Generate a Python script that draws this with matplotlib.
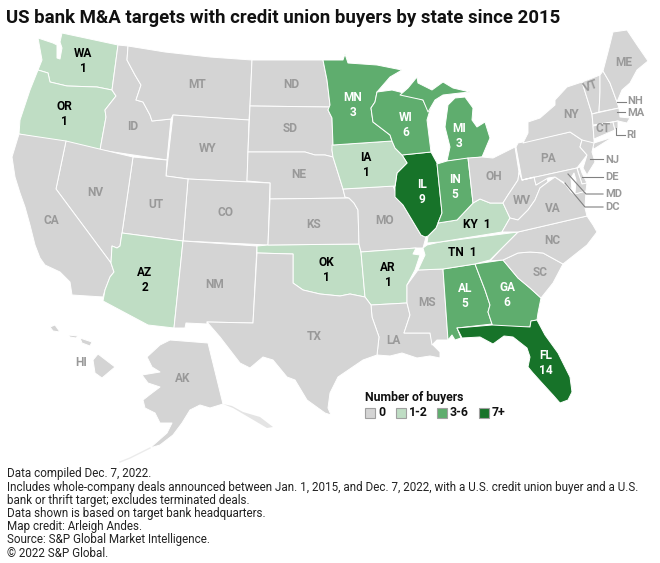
import matplotlib
matplotlib.use("Agg")
import matplotlib.pyplot as plt
from matplotlib.patches import Polygon, Rectangle

plt.rcParams['font.family'] = ['Roboto', 'DejaVu Sans']

TITLE = "US bank M&A targets with credit union buyers by state since 2015"
NOTES = [
    "Data compiled Dec. 7, 2022.",
    "Includes whole-company deals announced between Jan. 1, 2015, and Dec. 7, 2022, with a U.S. credit union buyer and a U.S.",
    "bank or thrift target; excludes terminated deals.",
    "Data shown is based on target bank headquarters.",
    "Map credit: Arleigh Andes.",
    "Source: S&P Global Market Intelligence.",
    "\u00a9 2022 S&P Global.",
]

# buyers per state, anything not listed is 0
buyers = {"WA": 1, "OR": 1, "AZ": 2, "OK": 1, "AR": 1, "IA": 1, "MN": 3, "WI": 6, "MI": 3,
          "IL": 9, "IN": 5, "KY": 1, "TN": 1, "AL": 5, "GA": 6, "FL": 14}

legend_labels = ["0", "1-2", "3-6", "7+"]
legend_colors = ["#d4d4d4", "#bfddc4", "#5fad6e", "#177329"]

# state outlines, traced in map units
outlines = {
    "WA": [[(62,33),(118,45),(112,90),(97,87),(67,86),(50,82),(48,73),(38,70),(42,60),(38,38),(53,43),(57,45),(57,58),(60,59),(62,48),(60,42)]],
    "OR": [[(38,70),(48,73),(50,82),(67,86),(97,87),(112,90),(116,96),(105,110),(106,117),(100,150),(19,134),(20,120),(30,90)]],
    "ID": [[(118,45),(128,46),(127,60),(135,75),(141,85),(136,100),(143,102),(150,115),(152,121),(171,119),(167,160),(100,150),(106,117),(105,110),(116,96),(112,90)]],
    "MT": [[(128,46),(165,52),(210,57),(252,60),(250,106),(249,120),(200,117),(173,115),(171,119),(152,121),(150,115),(143,102),(136,100),(141,85),(135,75),(127,60)]],
    "WY": [[(173,115),(249,120),(247,182),(188,179),(166,176)]],
    "ND": [[(252,60),(323,60),(327,80),(330,105),(330,107),(250,106)]],
    "SD": [[(250,106),(330,107),(328,110),(332,118),(333,145),(332,150),(333,157),(325,155),(315,155),(305,152),(248,152)]],
    "NE": [[(248,152),(305,152),(315,155),(325,155),(333,157),(338,173),(343,189),(345,197),(349,198),(270,199),(270,183),(247,181)]],
    "CO": [[(188,179),(270,183),(268,245),(183,241)]],
    "UT": [[(133,157),(167,160),(166,176),(188,179),(183,241),(122,233)]],
    "NV": [[(66,141),(133,157),(122,233),(120,246),(117,248),(112,246),(111,263),(56,189)]],
    "CA": [[(19,134),(66,141),(56,189),(111,263),(114,272),(110,277),(105,290),(103,297),(72,295),(70,282),(60,272),(45,265),(40,258),(35,245),(30,225),(25,207),(20,193),(15,177),(12,157)]],
    "AZ": [[(122,233),(183,241),(174,328),(148,325),(103,301),(105,290),(110,277),(114,272),(111,263),(112,246),(117,248),(120,246)]],
    "NM": [[(183,241),(257,246),(253,323),(207,322),(207,324),(186,323),(185,328),(174,328)]],
    "OK": [[(257,246),(268,245),(359,244),(361,252),(365,297),(350,294),(340,296),(320,294),(303,290),(293,283),(293,254),(257,253)]],
    "KS": [[(270,199),(349,198),(354,203),(358,210),(359,244),(268,245)]],
    "MO": [[(343,189),(393,186),(397,195),(403,205),(412,220),(421,235),(426,237),(423,248),(416,248),(361,252),(359,244),(358,210),(354,203),(349,198),(345,197)]],
    "AR": [[(361,252),(416,248),(413,254),(420,255),(415,270),(407,285),(407,303),(371,305),(365,297)]],
    "LA": [[(371,305),(407,303),(410,315),(404,333),(430,333),(433,345),(440,352),(440,358),(430,356),(417,358),(402,353),(390,356),(377,355),(379,337),(372,317)]],
    "TX": [[(257,253),(293,254),(293,283),(303,290),(320,294),(340,296),(350,294),(365,297),(371,305),(372,317),(379,337),(377,355),(363,360),(338,377),(330,393),(328,408),(331,415),(325,413),(307,400),(295,380),(287,377),(273,360),(263,357),(250,368),(240,363),(220,337),(207,322),(253,323)]],
    "MS": [[(418,270),(443,269),(448,340),(437,340),(432,345),(430,333),(404,333),(410,315),(407,303),(407,285)]],
    "AL": [[(443,269),(475,264),(485,290),(490,305),(488,312),(492,324),(457,328),(461,338),(455,340),(452,335),(448,340)]],
    "GA": [[(475,264),(503,260),(518,278),(530,288),(541,298),(538,313),(537,320),(531,321),(530,327),(493,327),(488,312),(490,305),(485,290)]],
    "FL": [[(457,328),(492,325),(530,327),(531,321),(537,320),(545,335),(558,353),(570,377),(572,392),(568,400),(560,403),(553,395),(542,383),(533,373),(528,367),(530,357),(527,348),(513,337),(504,336),(493,344),(480,337),(462,338)]],
    "SC": [[(503,260),(518,253),(530,252),(543,253),(563,264),(553,283),(541,298),(530,288),(518,278)]],
    "NC": [[(490,261),(502,248),(518,232),(587,216),(593,225),(597,232),(587,245),(563,264),(543,253),(530,252),(518,253),(503,260)]],
    "TN": [[(427,245),(440,242),(518,232),(510,240),(490,260),(475,264),(443,269),(418,270),(425,255),(423,248)]],
    "KY": [[(427,243),(428,236),(436,228),(438,223),(457,220),(473,203),(480,199),(490,203),(503,203),(510,218),(502,232),(440,242)]],
    "IL": [[(402,155),(431,152),(437,163),(442,213),(436,228),(428,236),(425,237),(421,235),(412,220),(403,205),(395,197),(395,187),(397,173),(407,163)]],
    "IA": [[(332,145),(392,141),(395,148),(402,155),(407,163),(397,173),(395,186),(343,189),(338,173),(333,157),(332,150)]],
    "MN": [[(323,60),(343,60),(345,54),(348,63),(377,65),(402,70),(390,77),(377,92),(375,102),(371,108),(373,122),(390,135),(392,141),(333,145),(332,118),(328,110),(330,105),(327,80)]],
    "WI": [[(377,92),(392,90),(400,92),(423,100),(428,110),(433,100),(427,120),(431,152),(402,155),(395,148),(392,141),(390,135),(373,122),(371,108),(375,102)]],
    "MI": [[(447,161),(482,157),(490,138),(485,122),(477,127),(472,120),(473,108),(465,97),(455,98),(448,105),(445,127),(450,147)],
           [(400,95),(408,88),(417,77),(418,83),(432,90),(443,82),(453,88),(470,92),(460,93),(443,95),(435,100),(428,112),(423,100)]],
    "IN": [[(437,164),(447,161),(468,158),(473,203),(457,220),(438,223),(442,213)]],
    "OH": [[(468,158),(482,157),(493,158),(515,147),(519,172),(518,180),(508,195),(503,203),(490,203),(480,199),(473,203)]],
    "WV": [[(519,172),(522,180),(534,177),(536,185),(547,178),(548,182),(540,188),(535,200),(528,210),(518,220),(510,218),(503,203),(508,195),(518,180)]],
    "VA": [[(510,218),(518,220),(528,210),(535,200),(540,188),(548,182),(555,177),(566,185),(571,192),(574,194),(586,191),(585,208),(587,216),(518,232),(502,232)]],
    "PA": [[(516,147),(518,143),(570,132),(582,140),(580,147),(587,155),(577,168),(522,180)]],
    "NY": [[(523,143),(528,133),(528,122),(540,118),(555,105),(555,100),(567,87),(582,82),(592,114),(593,125),(594,139),(594,143),(613,137),(594,149),(592,146),(582,140),(570,132)]],
    "NJ": [[(580,147),(582,140),(594,143),(592,152),(595,162),(587,175),(583,168),(587,155)]],
    "DE": [[(577,168),(580,167),(582,173),(587,183),(582,184)]],
    "MD": [[(522,180),(577,168),(578,172),(582,184),(587,183),(586,191),(575,194),(576,180),(574,173),(571,178),(572,190),(566,184),(555,177),(548,178),(536,185),(534,177)]],
    "VT": [[(582,82),(600,75),(600,92),(599,112),(592,114)]],
    "NH": [[(600,75),(603,71),(610,83),(617,102),(619,108),(599,112),(600,92)]],
    "ME": [[(603,71),(608,52),(613,32),(627,30),(637,45),(648,61),(637,70),(630,83),(622,90),(617,102),(610,83)]],
    "MA": [[(592,114),(619,108),(620,117),(630,118),(627,123),(618,121),(593,125)]],
    "CT": [[(593,126),(613,122),(615,130),(594,139)]],
    "RI": [[(613,122),(618,121),(618,128),(615,130)]],
    "AK": [[(147,357),(160,345),(170,340),(208,343),(223,404),(210,408),(200,405),(190,410),(182,423),(173,435),(160,445),(150,448),(167,433),(172,423),(160,423),(155,413),(145,408),(143,400),(152,393),(160,387),(148,383),(142,375),(160,372),(152,367)]],
    "HI": [[(93,360),(98,354),(115,367),(102,378),(95,373)],
           [(80,338),(92,342),(90,346),(82,343)],
           [(68,335),(78,336),(76,338),(70,337)],
           [(50,327),(55,325),(60,332),(53,331)]],
}

# the Alaska panhandle and island chain are washed out in the picture
ak_panhandle = [(223,404),(232,406),(243,412),(260,417),(273,427),(267,428),(250,418),(233,408)]
ak_chain = [(150,448),(140,453),(130,458),(120,462)]

# where each state's name goes
label_pos = {
    "WA": (83,61), "OR": (64,114), "MT": (197,85), "ID": (133,127), "WY": (208,149), "NV": (95,192),
    "UT": (156,205), "CA": (51,220), "CO": (226,212), "KS": (314,224), "ND": (291,84), "SD": (290,129),
    "NE": (299,174), "MN": (353,105), "WI": (406,125), "IA": (366,165), "MO": (385,220), "IL": (422,192),
    "MI": (459,136), "IN": (455,187), "OH": (494,177), "WV": (522,200), "VA": (553,209), "PA": (548,158),
    "NY": (571,115), "CT": (603,129), "ME": (624,62), "KY": (477,224), "TN": (462,252), "AL": (465,296),
    "GA": (507,295), "SC": (540,273), "NC": (552,240), "FL": (546,363), "MS": (427,302), "LA": (393,341),
    "TX": (314,337), "OK": (326,270), "AR": (388,275), "AZ": (145,280), "NM": (215,284), "HI": (81,363),
    "AK": (183,379),
}

# small eastern states labelled off to the side: name, text position, leader line
callouts = [
    ("NH", (627,101), [(617,102),(626,102)]),
    ("MA", (627,113), [(617,112),(625,112)]),
    ("RI", (626,135), [(616,128),(616,135),(625,135)]),
    ("NJ", (605,160), [(590,159),(603,159)]),
    ("DE", (605,177), [(582,177),(603,177)]),
    ("MD", (605,194), [(568,174),(586,194),(603,194)]),
    ("DC", (605,207), [(565,183),(585,207),(603,207)]),
]


def state_color(n):
    if n == 0:
        return legend_colors[0]
    if n <= 2:
        return legend_colors[1]
    if n <= 6:
        return legend_colors[2]
    return legend_colors[3]


def text_color(n):
    if n == 0:
        return "#999999"
    if n <= 2:
        return "#000000"
    return "#ffffff"


fig = plt.figure(figsize=(6.6, 5.63), dpi=100)
ax = fig.add_axes([0, 0, 1, 1])
ax.set_xlim(0, 660)
ax.set_ylim(563, 0)
ax.axis('off')

for code, polys in outlines.items():
    for poly in polys:
        ax.add_patch(Polygon(poly, closed=True, facecolor=state_color(buyers.get(code, 0)),
                             edgecolor="white", linewidth=0.7, joinstyle="round"))

ax.add_patch(Polygon(ak_panhandle, closed=True, facecolor="#e4e4e4", edgecolor="none"))
ax.plot([p[0] for p in ak_chain], [p[1] for p in ak_chain], color="#ececec", linewidth=1)

for code, (x, y) in label_pos.items():
    n = buyers.get(code, 0)
    if code in ("KY", "TN"):
        s = f"{code}  {n}"
    elif n > 0:
        s = f"{code}\n{n}"
    else:
        s = code
    ax.text(x, y, s, ha="center", va="center", fontsize=8.6, fontweight="bold",
            color=text_color(n), linespacing=1.2)

ax.text(591, 86, "VT", ha="center", va="center", fontsize=8.6, fontweight="bold", color="#999999", rotation=20)

for name, (x, y), line in callouts:
    ax.plot([p[0] for p in line], [p[1] for p in line], color="#808080", linewidth=0.8)
    ax.text(x, y, name, ha="left", va="center", fontsize=8, fontweight="bold", color="#999999")

ax.text(6, 18, TITLE, ha="left", va="center", fontsize=13.4, fontweight="bold", color="#111111")

# legend
ax.text(365, 397, "Number of buyers", ha="left", va="center", fontsize=8.8, fontweight="bold", color="#111111")
swatch_x = [365, 396, 437, 479]
for sx, lab, col in zip(swatch_x, legend_labels, legend_colors):
    ax.add_patch(Rectangle((sx, 408), 10, 10, facecolor=col, edgecolor="#a0a0a0", linewidth=0.8))
    ax.text(sx + 13, 413, lab, ha="left", va="center", fontsize=8.8, fontweight="bold", color="#111111")

for i, line in enumerate(NOTES):
    ax.text(7, 474 + i * 13.2, line, ha="left", va="center", fontsize=8.4, color="#222222")

fig.savefig("out.png", dpi=100)
